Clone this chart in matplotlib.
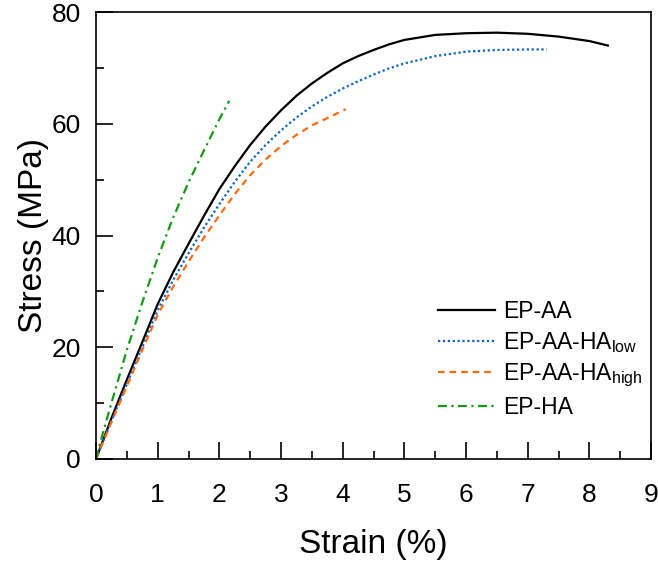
import numpy as np
import matplotlib
matplotlib.use('Agg')
import matplotlib.pyplot as plt
from matplotlib.ticker import MultipleLocator

plt.rcParams['font.family'] = ['Liberation Sans', 'DejaVu Sans']
plt.rcParams['mathtext.fontset'] = 'custom'
plt.rcParams['mathtext.rm'] = 'Liberation Sans'
plt.rcParams['mathtext.it'] = 'Liberation Sans:italic'

# stress-strain data (strain %, stress MPa)
ep_aa_strain = [0, 0.25, 0.5, 0.75, 1.0, 1.25, 1.5, 1.75, 2.0, 2.25, 2.5, 2.75, 3.0, 3.25, 3.5, 3.75,
                4.0, 4.25, 4.5, 4.75, 5.0, 5.5, 6.0, 6.5, 7.0, 7.5, 8.0, 8.3]
ep_aa_stress = [0, 7.3, 14.2, 20.9, 27.7, 33.4, 38.5, 43.5, 48.3, 52.4, 56.2, 59.5, 62.4, 65.0, 67.2, 69.1,
                70.8, 72.1, 73.2, 74.2, 75.0, 75.9, 76.2, 76.3, 76.1, 75.6, 74.8, 74.0]

low_strain = [0, 0.25, 0.5, 0.75, 1.0, 1.25, 1.5, 1.75, 2.0, 2.25, 2.5, 2.75, 3.0, 3.25, 3.5, 3.75,
              4.0, 4.25, 4.5, 4.75, 5.0, 5.5, 6.0, 6.5, 7.0, 7.31]
low_stress = [0, 6.8, 13.4, 20.0, 26.6, 32.0, 36.8, 41.4, 45.6, 49.6, 53.2, 56.2, 58.8, 61.1, 63.1, 64.8,
              66.3, 67.6, 68.8, 69.9, 70.8, 72.1, 72.9, 73.2, 73.3, 73.3]

high_strain = [0, 0.25, 0.5, 0.75, 1.0, 1.25, 1.5, 1.75, 2.0, 2.25, 2.5, 2.75, 3.0, 3.25, 3.5, 3.75, 4.05]
high_stress = [0, 6.6, 13.0, 19.5, 25.8, 30.8, 35.3, 39.6, 43.6, 47.4, 50.8, 53.6, 56.0, 58.0, 59.7, 61.0, 62.6]

ep_ha_strain = [0, 0.1, 0.25, 0.5, 0.75, 1.0, 1.25, 1.5, 1.75, 2.0, 2.16]
ep_ha_stress = [0, 4.2, 10.0, 19.5, 28.0, 36.0, 43.2, 49.5, 55.2, 60.8, 64.1]

labels = ['EP-AA', r'EP-AA-HA$_{\mathrm{low}}$', r'EP-AA-HA$_{\mathrm{high}}$', 'EP-HA']

fig = plt.figure(figsize=(6.58, 5.71), dpi=100)
ax = fig.add_axes([96 / 658, 112 / 571, 555 / 658, 447 / 571])

ax.plot(ep_aa_strain, ep_aa_stress, color='black', linestyle='-', linewidth=1.6, label=labels[0])
ax.plot(low_strain, low_stress, color='#0a64c8', linestyle=(0, (1, 1.2)), linewidth=1.6, label=labels[1])
ax.plot(high_strain, high_stress, color='#ff6a10', linestyle=(0, (3, 2.2)), linewidth=1.6, label=labels[2])
ax.plot(ep_ha_strain, ep_ha_stress, color='#139a13', linestyle=(0, (4, 2, 1, 2)), linewidth=1.6, label=labels[3])

ax.set_xlim(0, 9)
ax.set_ylim(0, 80)
ax.xaxis.set_major_locator(MultipleLocator(1))
ax.xaxis.set_minor_locator(MultipleLocator(0.5))
ax.yaxis.set_major_locator(MultipleLocator(20))
ax.yaxis.set_minor_locator(MultipleLocator(10))
ax.tick_params(which='both', direction='in', top=False, right=False, width=1.2, labelsize=19)
ax.tick_params(which='major', length=12)
ax.tick_params(which='minor', length=6)
ax.tick_params(axis='x', pad=17)
ax.tick_params(axis='y', pad=11)
for s in ax.spines.values():
    s.set_linewidth(1.2)

ax.set_xlabel('Strain (%)', fontsize=24, labelpad=16)
ax.set_ylabel('Stress (MPa)', fontsize=24, labelpad=2)

ax.legend(loc='upper left', bbox_to_anchor=(0.616, 0.355), frameon=False, fontsize=16.5,
          handlelength=2.5, handletextpad=0.35, labelspacing=0.3, borderpad=0, borderaxespad=0)

fig.savefig('out.png', dpi=100)
